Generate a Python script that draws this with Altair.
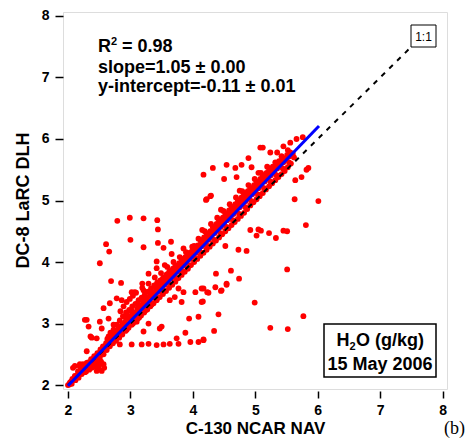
import altair as alt
import pandas as pd

# ---- data ----
band_points = [
    (2.00,2.00),(2.02,2.01),(2.03,2.04),(2.05,2.06),(2.06,2.02),(2.07,2.10),
    (2.10,2.10),(2.11,2.15),(2.12,2.08),(2.15,2.16),(2.16,2.22),(2.17,2.12),
    (2.20,2.22),(2.21,2.27),(2.22,2.18),(2.19,2.30),(2.25,2.26),(2.26,2.31),(2.27,2.21),(2.24,2.34),
    (2.30,2.32),(2.31,2.27),(2.32,2.37),(2.29,2.22),(2.35,2.36),(2.36,2.30),(2.37,2.42),(2.34,2.25),
    (2.40,2.42),(2.41,2.35),(2.42,2.47),(2.43,2.30),(2.45,2.47),(2.46,2.40),(2.47,2.52),(2.48,2.33),
    (2.50,2.52),(2.51,2.45),(2.52,2.58),(2.53,2.38),(2.55,2.57),(2.56,2.63),(2.57,2.50),(2.58,2.28),
    (2.60,2.62),(2.61,2.68),(2.62,2.57),(2.63,2.75),(2.65,2.68),(2.66,2.74),(2.67,2.63),(2.68,2.85),
    (2.70,2.73),(2.71,2.80),(2.72,2.68),(2.73,2.90),(2.75,2.78),(2.76,2.86),(2.77,2.72),(2.78,2.98),
    (2.80,2.84),(2.81,2.92),(2.82,2.77),(2.83,3.05),(2.85,2.89),(2.86,2.97),(2.87,2.82),(2.88,3.12),(2.84,3.20),
    (2.90,2.94),(2.91,3.02),(2.92,2.88),(2.93,3.18),(2.89,3.28),(2.95,2.99),(2.96,3.08),(2.97,2.93),(2.98,3.22),(2.94,3.35),
    (3.00,3.05),(3.01,3.13),(3.02,2.98),(3.03,3.28),(2.99,3.40),(3.05,3.10),(3.06,3.18),(3.07,3.03),(3.08,3.32),(3.04,3.45),
    (3.10,3.15),(3.11,3.24),(3.12,3.08),(3.13,3.38),(3.09,3.50),(3.15,3.21),(3.16,3.29),(3.17,3.13),(3.18,3.42),
    (3.20,3.26),(3.21,3.35),(3.22,3.18),(3.23,3.47),(3.19,3.58),(3.25,3.31),(3.26,3.40),(3.27,3.23),(3.28,3.52),
    (3.30,3.36),(3.31,3.45),(3.32,3.28),(3.33,3.57),(3.29,3.65),(3.35,3.42),(3.36,3.50),(3.37,3.33),(3.38,3.62),
    (3.40,3.47),(3.41,3.55),(3.42,3.38),(3.43,3.67),(3.39,3.75),(3.45,3.52),(3.46,3.60),(3.47,3.43),(3.48,3.70),
    (3.50,3.57),(3.51,3.66),(3.52,3.48),(3.53,3.75),(3.49,3.82),(3.55,3.63),(3.56,3.71),(3.57,3.53),(3.58,3.80),
    (3.60,3.68),(3.61,3.76),(3.62,3.58),(3.63,3.85),(3.59,3.92),(3.65,3.73),(3.66,3.81),(3.67,3.63),(3.68,3.89),
    (3.70,3.78),(3.71,3.86),(3.72,3.68),(3.73,3.94),(3.69,4.00),(3.75,3.84),(3.76,3.91),(3.77,3.74),(3.78,3.98),
    (3.80,3.89),(3.81,3.96),(3.82,3.79),(3.83,4.04),(3.79,4.08),(3.85,3.94),(3.86,4.01),(3.87,3.84),(3.88,4.08),
    (3.90,3.99),(3.91,4.06),(3.92,3.89),(3.93,4.12),(3.89,4.16),(3.95,4.05),(3.96,4.12),(3.97,3.95),(3.98,4.17),
    (4.00,4.10),(4.01,4.17),(4.02,4.00),(4.03,4.22),(3.99,4.25),(4.05,4.15),(4.06,4.22),(4.07,4.05),(4.08,4.27),
    (4.10,4.20),(4.11,4.27),(4.12,4.10),(4.13,4.33),(4.09,4.38),(4.15,4.26),(4.16,4.33),(4.17,4.15),(4.18,4.40),
    (4.20,4.31),(4.21,4.38),(4.22,4.20),(4.23,4.45),(4.19,4.50),(4.25,4.36),(4.26,4.43),(4.27,4.25),(4.28,4.50),
    (4.30,4.41),(4.31,4.49),(4.32,4.30),(4.33,4.56),(4.29,4.62),(4.35,4.47),(4.36,4.55),(4.37,4.35),(4.38,4.62),
    (4.40,4.52),(4.41,4.60),(4.42,4.40),(4.43,4.68),(4.39,4.72),(4.45,4.57),(4.46,4.65),(4.47,4.45),(4.48,4.72),
    (4.50,4.62),(4.51,4.70),(4.52,4.50),(4.53,4.78),(4.49,4.83),(4.55,4.68),(4.56,4.76),(4.57,4.55),(4.58,4.84),
    (4.60,4.73),(4.61,4.81),(4.62,4.60),(4.63,4.89),(4.59,4.94),(4.65,4.78),(4.66,4.86),(4.67,4.65),(4.68,4.94),
    (4.70,4.83),(4.71,4.92),(4.72,4.70),(4.73,5.00),(4.69,5.05),(4.75,4.89),(4.76,4.97),(4.77,4.75),(4.78,5.05),
    (4.80,4.94),(4.81,5.02),(4.82,4.80),(4.83,5.10),(4.79,5.15),(4.85,4.99),(4.86,5.07),(4.87,4.86),(4.88,5.15),
    (4.90,5.04),(4.91,5.12),(4.92,4.92),(4.93,5.20),(4.89,5.25),(4.95,5.10),(4.96,5.18),(4.97,4.97),(4.98,5.25),
    (5.00,5.15),(5.01,5.23),(5.02,5.02),(5.03,5.30),(4.99,5.35),(5.05,5.20),(5.06,5.28),(5.07,5.07),(5.08,5.35),
    (5.10,5.25),(5.11,5.33),(5.12,5.12),(5.13,5.40),(5.09,5.45),(5.15,5.31),(5.16,5.38),(5.17,5.18),(5.18,5.45),
    (5.20,5.36),(5.21,5.44),(5.22,5.23),(5.23,5.50),(5.19,5.55),(5.25,5.41),(5.26,5.49),(5.27,5.28),(5.28,5.55),
    (5.30,5.46),(5.31,5.54),(5.32,5.33),(5.33,5.60),(5.35,5.52),(5.36,5.59),(5.37,5.38),(5.38,5.64),
    (5.40,5.57),(5.41,5.64),(5.42,5.43),(5.43,5.70),(5.45,5.62),(5.46,5.68),(5.47,5.48),
    (5.50,5.67),(5.51,5.74),(5.52,5.54),(5.55,5.72),(5.56,5.78),(5.57,5.60),(5.60,5.76),(5.62,5.70),
]

band_fill = [
    (2.92,3.10),(2.94,2.90),(3.02,3.20),(3.04,3.00),(3.12,3.31),(3.14,3.10),(3.22,3.42),(3.24,3.21),
    (3.32,3.52),(3.34,3.31),(3.42,3.63),(3.44,3.42),(3.52,3.73),(3.54,3.52),(3.62,3.84),(3.64,3.63),
    (3.72,3.94),(3.74,3.73),(3.82,4.05),(3.84,3.84),(3.92,4.15),(3.94,3.94),(4.02,4.26),(4.04,4.05),
    (4.12,4.36),(4.14,4.15),(4.22,4.47),(4.24,4.26),(4.32,4.57),(4.34,4.36),(4.42,4.68),(4.44,4.47),
    (4.52,4.78),(4.54,4.57),(4.62,4.89),(4.64,4.68),(4.72,4.99),(4.74,4.78),(4.82,5.10),(4.84,4.89),
    (4.92,5.20),(4.94,4.99),(5.02,5.31),(5.04,5.10),(5.12,5.41),(5.14,5.20),(5.22,5.52),(5.24,5.31),
    (5.32,5.62),(5.34,5.41),(5.42,5.72),(5.44,5.52),(5.52,5.82),(5.54,5.62),
    (4.15,4.52),(4.45,4.85),(4.75,5.16),(5.05,5.45),(5.35,5.78),(5.45,5.88),(3.85,4.22),(3.55,3.95),
]

low_cluster = [
    (2.08,2.28),(2.11,2.31),(2.19,2.34),(2.30,2.36),(2.41,2.39),(2.51,2.34),(2.54,2.23),(2.46,2.23),
    (2.57,2.34),(2.38,2.28),(2.44,2.36),(2.49,2.28),
]

upper_left_loop = [
    (2.27,3.06),(2.33,2.95),(2.38,2.77),(2.30,2.55),(2.46,2.76),(2.57,2.60),(2.65,2.79),
    (2.57,3.25),(2.67,3.33),(2.78,3.41),(2.86,3.38),(2.65,3.08),(2.73,2.98),(2.54,2.92),(2.51,3.03),
    (3.02,3.51),(3.21,3.54),(3.15,3.30),(2.94,3.14),(3.10,3.03),(3.21,2.87),(3.29,3.00),
    (2.83,2.66),(3.02,2.66),(3.18,2.66),(2.36,2.79),(2.30,3.06),
]

high_outliers = [
    (2.51,3.98),(2.69,3.69),(2.61,4.29),(2.66,4.17),(2.79,4.67),(2.99,4.72),(3.00,4.36),
    (3.21,4.71),(3.21,4.24),(3.43,4.68),(3.44,4.53),(3.44,4.31),(3.53,4.23),(3.65,4.33),
    (3.66,4.13),(3.42,4.01),(3.42,3.90),(3.29,3.81),(2.85,3.66),(3.19,3.65),(3.07,3.51),
    (4.17,5.42),(4.32,5.53),(4.21,5.01),(4.29,5.08),(4.54,5.58),(4.50,5.35),(4.68,5.53),
    (4.78,5.58),(4.89,5.69),(4.70,5.38),(5.08,5.86),(5.12,5.86),(5.24,5.78),(4.94,5.54),
    (5.56,5.94),(5.66,6.00),(5.76,6.03),(4.28,5.07),(4.22,5.02),
]

low_outliers = [
    (4.04,4.15),(4.52,4.26),(4.73,4.20),(4.86,4.18),(4.61,3.86),(4.74,3.73),(4.46,3.54),
    (4.92,4.52),(5.05,4.53),(6.01,4.99),(5.81,4.60),(5.51,3.88),(5.63,5.02),(5.45,4.51),
    (5.51,4.50),(5.33,4.39),(5.22,4.47),(5.09,4.51),(5.02,4.43),(4.37,3.81),(4.36,3.59),
    (4.23,3.51),(4.54,3.65),(5.82,5.50),(5.85,5.53),(5.74,5.38),(5.64,5.33),
    (4.54,3.63),(4.45,3.53),(4.25,3.50),(4.17,3.57),(4.16,3.36),(4.99,3.34),(4.41,3.15),
    (4.34,2.88),(4.17,2.73),(5.24,2.93),(5.52,2.91),(5.77,3.12),
    (3.29,2.67),(3.42,2.65),(3.53,2.66),(3.63,2.67),(3.77,2.67),(3.74,2.76),(3.88,2.85),
    (3.96,2.70),(4.09,2.70),(4.17,2.74),(3.47,2.92),(3.50,2.95),(3.94,3.08),(4.09,3.11),
    (3.63,3.38),(3.71,3.43),(3.82,3.35),(3.85,3.51),(4.04,3.51),(4.14,3.57),(4.14,3.35),(3.77,3.57),
]

fit_x = [2.00, 6.02]
fit_y = [1.99, 6.21]
one_x = [2.00, 7.89]
one_y = [2.00, 7.89]
tick_values = [2, 3, 4, 5, 6, 7, 8]

all_pts = band_points + band_fill + low_cluster + upper_left_loop + high_outliers + low_outliers
pts = pd.DataFrame(all_pts, columns=["x", "y"])

FONT = "Liberation Sans"
xscale = alt.Scale(domain=[1.92, 8.07], nice=False, zero=False)
yscale = alt.Scale(domain=[1.936, 8.064], nice=False, zero=False)

xaxis = alt.Axis(values=tick_values, format="d", grid=False, domain=False,
                 ticks=True, tickSize=7, tickWidth=1.5, tickColor="black", offset=2,
                 labelFont=FONT, labelFontSize=14, labelFontWeight="bold", labelColor="black",
                 labelPadding=5, labelBaseline="top",
                 title="C-130 NCAR NAV", titleFont=FONT, titleFontSize=17,
                 titleFontWeight="bold", titleColor="black", titleX=192, titleY=42,
                 titleAnchor="middle", titleBaseline="alphabetic")
yaxis = alt.Axis(values=tick_values, format="d", grid=False, domain=False,
                 ticks=True, tickSize=8, tickWidth=1.5, tickColor="black",
                 labelFont=FONT, labelFontSize=14, labelFontWeight="bold", labelColor="black",
                 labelPadding=6, title="DC-8 LaRC DLH", titleFont=FONT, titleFontSize=18,
                 titleFontWeight="bold", titleColor="black", titleX=-35, titleY=188,
                 titleAngle=270, titleAlign="center", titleBaseline="alphabetic")

points = alt.Chart(pts).mark_circle(size=34, color="#ff0000", opacity=1).encode(
    x=alt.X("x:Q", scale=xscale, axis=xaxis),
    y=alt.Y("y:Q", scale=yscale, axis=yaxis),
)

one_df = pd.DataFrame({"x": one_x, "y": one_y})
one_line = alt.Chart(one_df).mark_line(color="black", strokeWidth=2, strokeDash=[5, 6]).encode(
    x=alt.X("x:Q", scale=xscale), y=alt.Y("y:Q", scale=yscale))

fit_df = pd.DataFrame({"x": fit_x, "y": fit_y})
fit_line = alt.Chart(fit_df).mark_line(color="#0000ff", strokeWidth=3).encode(
    x=alt.X("x:Q", scale=xscale), y=alt.Y("y:Q", scale=yscale))

one_row = pd.DataFrame({"a": [0]})

def txt(s, x, y, size=18, weight="bold", align="left", font=FONT):
    return alt.Chart(one_row).mark_text(text=s, font=font, fontSize=size, fontWeight=weight,
                                        align=align, baseline="alphabetic", color="black").encode(
        x=alt.value(x), y=alt.value(y))

def box(x, x2, y, y2, sw):
    return alt.Chart(one_row).mark_rect(fill="white", stroke="black", strokeWidth=sw).encode(
        x=alt.value(x), x2=alt.value(x2), y=alt.value(y), y2=alt.value(y2))

annot = [
    txt("R", 35, 39.5),
    txt("2", 48, 33, size=11),
    txt("= 0.98", 59, 39.5),
    txt("slope=1.05 ± 0.00", 35, 60.5),
    txt("y-intercept=-0.11 ± 0.01", 35, 80),
    box(348, 373, 13, 35, 1),
    txt("1:1", 360.5, 29, size=12, weight="normal", align="center"),
    box(261, 373, 312, 365, 1.5),
    txt("H", 273.5, 334),
    txt("2", 286.5, 338, size=11),
    txt("O (g/kg)", 293, 334),
    txt("15 May 2006", 317, 358, align="center"),
    txt("(b)", 381, 422, size=18, weight="normal", font="Liberation Serif"),
]

chart = alt.layer(points, one_line, fit_line, *annot).properties(
    width=384, height=377,
    autosize=alt.AutoSizeParams(type="none"),
    padding={"left": 55, "top": 4, "right": 20, "bottom": 50},
).configure_view(stroke="black", strokeWidth=1.5).configure(background="white")

chart.save("out.html", embed_options={"renderer": "svg", "actions": False})
